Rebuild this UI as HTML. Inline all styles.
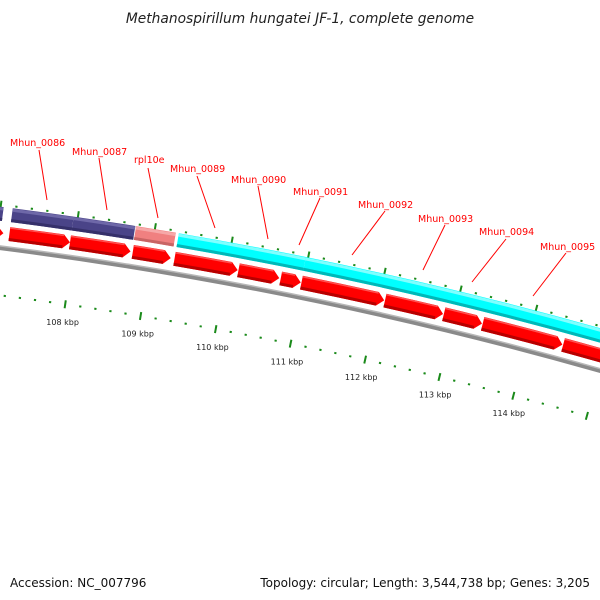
<!DOCTYPE html>
<html><head><meta charset="utf-8"><style>
body{margin:0;background:#fff}
svg{display:block;font-family:"DejaVu Sans","Liberation Sans",sans-serif}
</style></head><body>
<svg id="c" width="600" height="600" viewBox="0 0 600 600">
<rect width="600" height="600" fill="#fff"/>
<text x="300" y="23" text-anchor="middle" font-size="13.8" font-style="italic" fill="#222">Methanospirillum hungatei JF-1, complete genome</text>
<text x="10" y="587" font-size="12" fill="#111">Accession: NC_007796</text>
<text x="590" y="587" text-anchor="end" font-size="12" fill="#111">Topology: circular; Length: 3,544,738 bp; Genes: 3,205</text>
<g id="ticks"></g><g id="bands"></g><g id="arrows"></g><g id="labels"></g>
</svg>
<script>
// data (kbp)
const bandStarts=[105.63,107.156,107.946,108.756,109.312,110.971];
const bandEnds=[107.039,107.946,108.746,109.273,110.971,115.88];
const bandColors=["#4a4488","#4a4488","#4a4488","#f08080","#00ffff","#00ffff"];
const bandLight=["#6e68a8","#6e68a8","#6e68a8","#f6a8a8","#80ffff","#80ffff"];
const bandDark=["#35306a","#35306a","#35306a","#c86464","#00b8b8","#00b8b8"];
const cdsStarts=[106.122,107.156,107.946,108.766,109.312,110.151,110.707,110.980,112.083,112.863,113.380,114.454];
const cdsEnds=[107.078,107.946,108.737,109.263,110.141,110.688,110.971,112.073,112.853,113.371,114.444,115.68];
const tickLabels=["108 kbp","109 kbp","110 kbp","111 kbp","112 kbp","113 kbp","114 kbp"];
const tickLabelPos=[108,109,110,111,112,113,114];
const geneNames=["Mhun_0086","Mhun_0087","rpl10e","Mhun_0089","Mhun_0090","Mhun_0091","Mhun_0092","Mhun_0093","Mhun_0094","Mhun_0095"];
const geneLabelX=[10,72,134,170,231,293,358,418,479,540];
const geneLabelY=[146,155,163,172,183,195,208,222,235,250];
const geneLines=[[39,150,47,200],[99,158,107,210],[148,168,158,218],[197,176,215,228],[258,186,268,239],[320,198,299,245],[385,211,352,255],[445,225,423,270],[506,239,472,282],[566,253,533,296]];

const CX=-518,CY=4306;
const ang=k=>0.2013+(k-111)*0.01886;
const P=(r,t)=>[CX+r*Math.sin(t),CY-r*Math.cos(t)];
const NS="http://www.w3.org/2000/svg";
const mk=(tag,parent,attrs)=>{const e=document.createElementNS(NS,tag);for(const k in attrs)e.setAttribute(k,attrs[k]);document.getElementById(parent).appendChild(e);return e;};
const f=p=>p[0].toFixed(2)+" "+p[1].toFixed(2);
function arc(r,a,b){return "M"+f(P(r,a))+" A"+r+" "+r+" 0 0 1 "+f(P(r,b));}

// backbone
let g=mk("path","bands",{d:arc(4091,ang(104),ang(117)),stroke:"#8a8a8a","stroke-width":4.5,fill:"none"});


g=mk("path","bands",{d:arc(4093,ang(104),ang(117)),stroke:"#b8b8b8","stroke-width":1.5,fill:"none"});



// ticks
for(let i=0;i<=50;i++){
  const k=106+i*0.2; const major=(i%5===0); const t=ang(k);
  [[4134,"outer"],[4044,"inner"]].forEach(([r,side])=>{
    const a=P(r-(major?4:1),t),b=P(r+(major?4:1),t);
    const l=mk("line","ticks",{x1:a[0],y1:a[1],x2:b[0],y2:b[1],stroke:"#1a8a1a","stroke-width":major?2:2.2});
    
    
  });
}
tickLabels.forEach((s,i)=>{
  const p=P(4026,ang(tickLabelPos[i]));
  const t=mk("text","ticks",{x:p[0],y:p[1]+3,"text-anchor":"middle","font-size":8,fill:"#222"});
  t.textContent=s;
  
  
});

// feature bands
bandStarts.forEach((s,i)=>{
  const a=ang(s),b=ang(bandEnds[i]);
  let e=mk("path","bands",{d:arc(4125,a,b),stroke:bandColors[i],"stroke-width":14,fill:"none"});
  
  
  e=mk("path","bands",{d:arc(4130,a,b),stroke:bandLight[i],"stroke-width":3,fill:"none"});
  
  
  e=mk("path","bands",{d:arc(4119.5,a,b),stroke:bandDark[i],"stroke-width":3,fill:"none"});
  
  
});

// CDS arrows
const RO=4113,RI=4099,RM=4106,HEAD=7/4106;
cdsStarts.forEach((s,i)=>{
  const ts=ang(s),te=ang(cdsEnds[i]),th=Math.max(ts,te-HEAD);
  const d="M"+f(P(RO,ts))+" A"+RO+" "+RO+" 0 0 1 "+f(P(RO,th))+" L"+f(P(RM,te))+" L"+f(P(RI,th))+" A"+RI+" "+RI+" 0 0 0 "+f(P(RI,ts))+" Z";
  let e=mk("path","arrows",{d:d,fill:"#ff0000"});
  
  
  e=mk("path","arrows",{d:arc(RI+1.5,ts,th),stroke:"#b80000","stroke-width":3,fill:"none"});
  
  
  e=mk("path","arrows",{d:arc(RO-1,ts,th),stroke:"#ff5050","stroke-width":1.5,fill:"none"});
  
  
});

// gene labels
geneNames.forEach((n,i)=>{
  const L=geneLines[i];
  let e=mk("line","labels",{x1:L[0],y1:L[1],x2:L[2],y2:L[3],stroke:"#ff0000","stroke-width":1});
  
  
  e=mk("text","labels",{x:geneLabelX[i],y:geneLabelY[i],"font-size":9.5,fill:"#ff0000"});
  e.textContent=n;
  
  
});
</script>
</body></html>
